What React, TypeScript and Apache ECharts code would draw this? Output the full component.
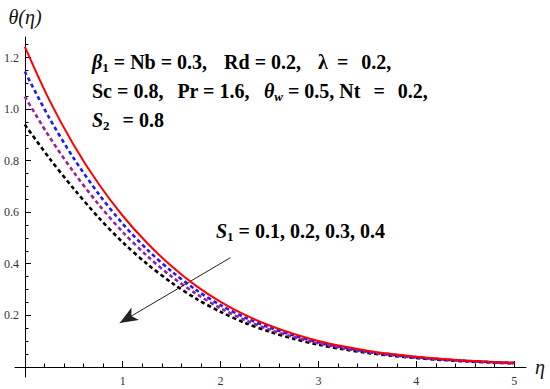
import React, { useEffect, useRef } from "react";
import * as echarts from "echarts";

const etas = [0, 0.25, 0.5, 0.75, 1, 1.25, 1.5, 1.75, 2, 2.25, 2.5, 2.75, 3, 3.25, 3.5, 3.75, 4, 4.25, 4.5, 4.75, 5];
const thetaS1_01 = [1.243, 1.036, 0.861, 0.712, 0.586, 0.48, 0.39, 0.314, 0.252, 0.201, 0.16, 0.127, 0.1, 0.079, 0.0623, 0.0492, 0.0388, 0.0306, 0.0241, 0.019, 0.015];
const thetaS1_02 = [1.146, 0.966, 0.809, 0.673, 0.555, 0.455, 0.37, 0.298, 0.239, 0.191, 0.152, 0.121, 0.0953, 0.0754, 0.0595, 0.047, 0.0371, 0.0293, 0.0231, 0.0182, 0.0144];
const thetaS1_03 = [1.049, 0.893, 0.755, 0.632, 0.523, 0.43, 0.35, 0.283, 0.227, 0.181, 0.144, 0.115, 0.0905, 0.0716, 0.0565, 0.0447, 0.0353, 0.0279, 0.022, 0.0174, 0.0137];
const thetaS1_04 = [0.94, 0.81, 0.691, 0.581, 0.483, 0.399, 0.326, 0.264, 0.213, 0.17, 0.136, 0.108, 0.0855, 0.0678, 0.0536, 0.0424, 0.0336, 0.0265, 0.0209, 0.0165, 0.0131];

const xMajorTicks = [1, 2, 3, 4, 5];
const xMinorTicks = [0.2, 0.4, 0.6, 0.8, 1.2, 1.4, 1.6, 1.8, 2.2, 2.4, 2.6, 2.8, 3.2, 3.4, 3.6, 3.8, 4.2, 4.4, 4.6, 4.8];
const yMajorTicks = [0.2, 0.4, 0.6, 0.8, 1.0, 1.2];
const yMinorTicks = [0.05, 0.1, 0.15, 0.25, 0.3, 0.35, 0.45, 0.5, 0.55, 0.65, 0.7, 0.75, 0.85, 0.9, 0.95, 1.05, 1.1, 1.15, 1.25];

const arrowStart = [2.1, 0.423];
const arrowEnd = [0.97, 0.17];

const serif = "'Liberation Serif', 'DejaVu Serif', serif";

function pairs(vals: number[]) {
  return etas.map((e, i) => [e, vals[i]]);
}

export default function App() {
  const ref = useRef<HTMLDivElement>(null);
  useEffect(() => {
    document.body.style.margin = "0";
    const chart = echarts.init(ref.current!, undefined, { renderer: "svg" });
    const rich = {
      b: { fontFamily: serif, fontWeight: "bold", fontSize: 20, color: "#111", lineHeight: 24 },
      bi: { fontFamily: serif, fontWeight: "bold", fontStyle: "italic", fontSize: 20, color: "#111", lineHeight: 24 },
      sub: { fontFamily: serif, fontWeight: "bold", fontSize: 13, color: "#111", verticalAlign: "bottom" },
      subi: { fontFamily: serif, fontWeight: "bold", fontStyle: "italic", fontSize: 13, color: "#111", verticalAlign: "bottom" },
      g: { fontSize: 20, width: 14, lineHeight: 24 },
      g1: { fontSize: 20, width: 17, lineHeight: 24 },
      s9: { fontSize: 20, width: 9, lineHeight: 24 },
      s13: { fontSize: 20, width: 13, lineHeight: 24 },
    };
    // grid: x from -0.1 to 5.12, y from -0.04 to 1.28; axes shifted onto the origin with offsets
    const xBase = {
      type: "value",
      min: -0.1,
      max: 5.12,
      position: "bottom",
      offset: -10,
      splitLine: { show: false },
    };
    const yBase = {
      type: "value",
      min: -0.04,
      max: 1.28,
      position: "left",
      offset: -10,
      splitLine: { show: false },
    };
    const lineSeries = (name: string, vals: number[], color: string, dashed: boolean, z: number) => ({
      name,
      type: "line",
      data: pairs(vals),
      smooth: 0.3,
      showSymbol: false,
      symbol: "none",
      z,
      lineStyle: { color, width: dashed ? 2.6 : 2, type: dashed ? [4, 3] : "solid" },
    });
    chart.setOption({
      animation: false,
      backgroundColor: "#fff",
      grid: { left: 15, right: 24, top: 37, bottom: 12, containLabel: false, outerBoundsMode: "none" },
      xAxis: [
        {
          ...xBase,
          name: "η",
          nameLocation: "end",
          nameGap: 9,
          nameTextStyle: { fontFamily: serif, fontStyle: "italic", fontSize: 20, color: "#111", verticalAlign: "middle" },
          axisLine: { show: true, onZero: false, lineStyle: { color: "#000", width: 1 } },
          axisTick: { show: true, inside: true, length: 6, customValues: xMajorTicks, lineStyle: { color: "#000" } },
          axisLabel: { show: true, customValues: xMajorTicks, margin: 8, fontFamily: serif, fontSize: 12, color: "#333" },
        },
        {
          ...xBase,
          axisLine: { show: false, onZero: false },
          axisTick: { show: true, inside: true, length: 3.5, customValues: xMinorTicks, lineStyle: { color: "#000" } },
          axisLabel: { show: false },
        },
      ],
      yAxis: [
        {
          ...yBase,
          name: "θ(η)",
          nameLocation: "end",
          nameGap: 10,
          nameTextStyle: { fontFamily: serif, fontStyle: "italic", fontSize: 20, color: "#111", align: "center" },
          axisLine: { show: true, onZero: false, lineStyle: { color: "#000", width: 1 } },
          axisTick: { show: true, inside: true, length: 6, customValues: yMajorTicks, lineStyle: { color: "#000" } },
          axisLabel: {
            show: true,
            customValues: yMajorTicks,
            margin: 6,
            fontFamily: serif,
            fontSize: 12,
            color: "#333",
            formatter: (v: number) => v.toFixed(1),
          },
        },
        {
          ...yBase,
          axisLine: { show: false, onZero: false },
          axisTick: { show: true, inside: true, length: 3.5, customValues: yMinorTicks, lineStyle: { color: "#000" } },
          axisLabel: { show: false },
        },
      ],
      series: [
        lineSeries("S1 = 0.4", thetaS1_04, "#000000", true, 2),
        lineSeries("S1 = 0.3", thetaS1_03, "#992299", true, 3),
        lineSeries("S1 = 0.2", thetaS1_02, "#1a1aff", true, 4),
        {
          ...lineSeries("S1 = 0.1", thetaS1_01, "#ff0000", false, 5),
          markLine: {
            silent: true,
            symbol: ["none", "arrow"],
            symbolSize: [11, 18],
            label: { show: false },
            itemStyle: { color: "#222" },
            lineStyle: { color: "#222", width: 1, type: "solid" },
            data: [[{ coord: arrowStart }, { coord: arrowEnd }]],
          },
        },
      ],
      graphic: [
        {
          type: "text",
          left: 92,
          top: 52,
          style: { text: "{bi|β}{sub|1}{b| = Nb = 0.3,}{g1| }{b|Rd = 0.2,}{g1| }{b|λ}{s9| }{b|=}{s13| }{b|0.2,}", rich },
        },
        {
          type: "text",
          left: 92,
          top: 81,
          style: { text: "{b|Sc = 0.8,}{g| }{b|Pr = 1.6,}{g| }{bi|θ}{subi|w}{b| = 0.5, Nt}{s13| }{b|=}{s13| }{b|0.2,}", rich },
        },
        {
          type: "text",
          left: 92,
          top: 110,
          style: { text: "{bi|S}{sub|2}{s13| }{b|= 0.8}", rich },
        },
        {
          type: "text",
          left: 216,
          top: 221,
          style: { text: "{bi|S}{sub|1}{b| = 0.1, 0.2, 0.3, 0.4}", rich },
        },
      ],
    });
    return () => chart.dispose();
  }, []);
  return <div ref={ref} style={{ position: "fixed", left: 0, top: 0, width: 550, height: 389 }} />;
}
